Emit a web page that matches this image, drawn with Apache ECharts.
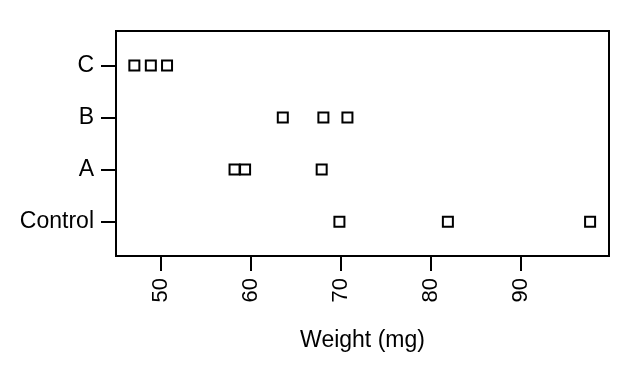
<!DOCTYPE html>
<html>
<head>
<meta charset="utf-8">
<script src="https://cdn.jsdelivr.net/npm/echarts@6/dist/echarts.min.js"></script>
<style>html,body{margin:0;padding:0;background:#fff;}#c{width:640px;height:373px;}</style>
</head>
<body>
<div id="c"></div>
<script>
const categories = ["Control", "A", "B", "C"];
const controlValues = [69.85, 81.9, 97.7];
const aValues = [58.2, 59.37, 67.88];
const bValues = [63.56, 68.07, 70.74];
const cValues = [47.07, 48.9, 50.7];
const xTicks = [50, 60, 70, 80, 90];
const xTitle = "Weight (mg)";

const groups = [controlValues, aValues, bValues, cValues];
const points = [];
groups.forEach((vals, i) => vals.forEach(v => points.push([v, i + 1])));

const font = "'Liberation Sans', Arial, Helvetica, sans-serif";
const chart = echarts.init(document.getElementById('c'), null, {renderer: 'canvas'});
chart.setOption({
  animation: false,
  backgroundColor: '#fff',
  grid: {left: 116, right: 31, top: 31, bottom: 117, show: true, borderColor: '#000', borderWidth: 2, backgroundColor: 'transparent'},
  xAxis: {
    type: 'value', min: 45.03, max: 99.8,
    name: xTitle, nameLocation: 'middle', nameGap: 73,
    nameTextStyle: {fontFamily: font, fontSize: 23, color: '#000'},
    axisLine: {show: true, onZero: false, lineStyle: {color: '#000', width: 2}},
    axisTick: {show: true, length: 15, lineStyle: {color: '#000', width: 2}, customValues: xTicks},
    axisLabel: {show: true, rotate: 90, margin: 22, fontFamily: font, fontSize: 22, color: '#000', customValues: xTicks},
    splitLine: {show: false}
  },
  yAxis: {
    type: 'value', min: 0.34, max: 4.66,
    axisLine: {show: true, onZero: false, lineStyle: {color: '#000', width: 2}},
    axisTick: {show: true, length: 15, lineStyle: {color: '#000', width: 2}, customValues: [1, 2, 3, 4]},
    axisLabel: {show: true, margin: 22, fontFamily: font, fontSize: 23, color: '#000', customValues: [1, 2, 3, 4],
      formatter: v => categories[Math.round(v) - 1] || ''},
    splitLine: {show: false}
  },
  series: [{
    type: 'scatter',
    data: points,
    symbol: 'rect',
    symbolSize: 10,
    itemStyle: {color: '#fff', borderColor: '#000', borderWidth: 2, opacity: 1}
  }]
});
</script>
</body>
</html>
